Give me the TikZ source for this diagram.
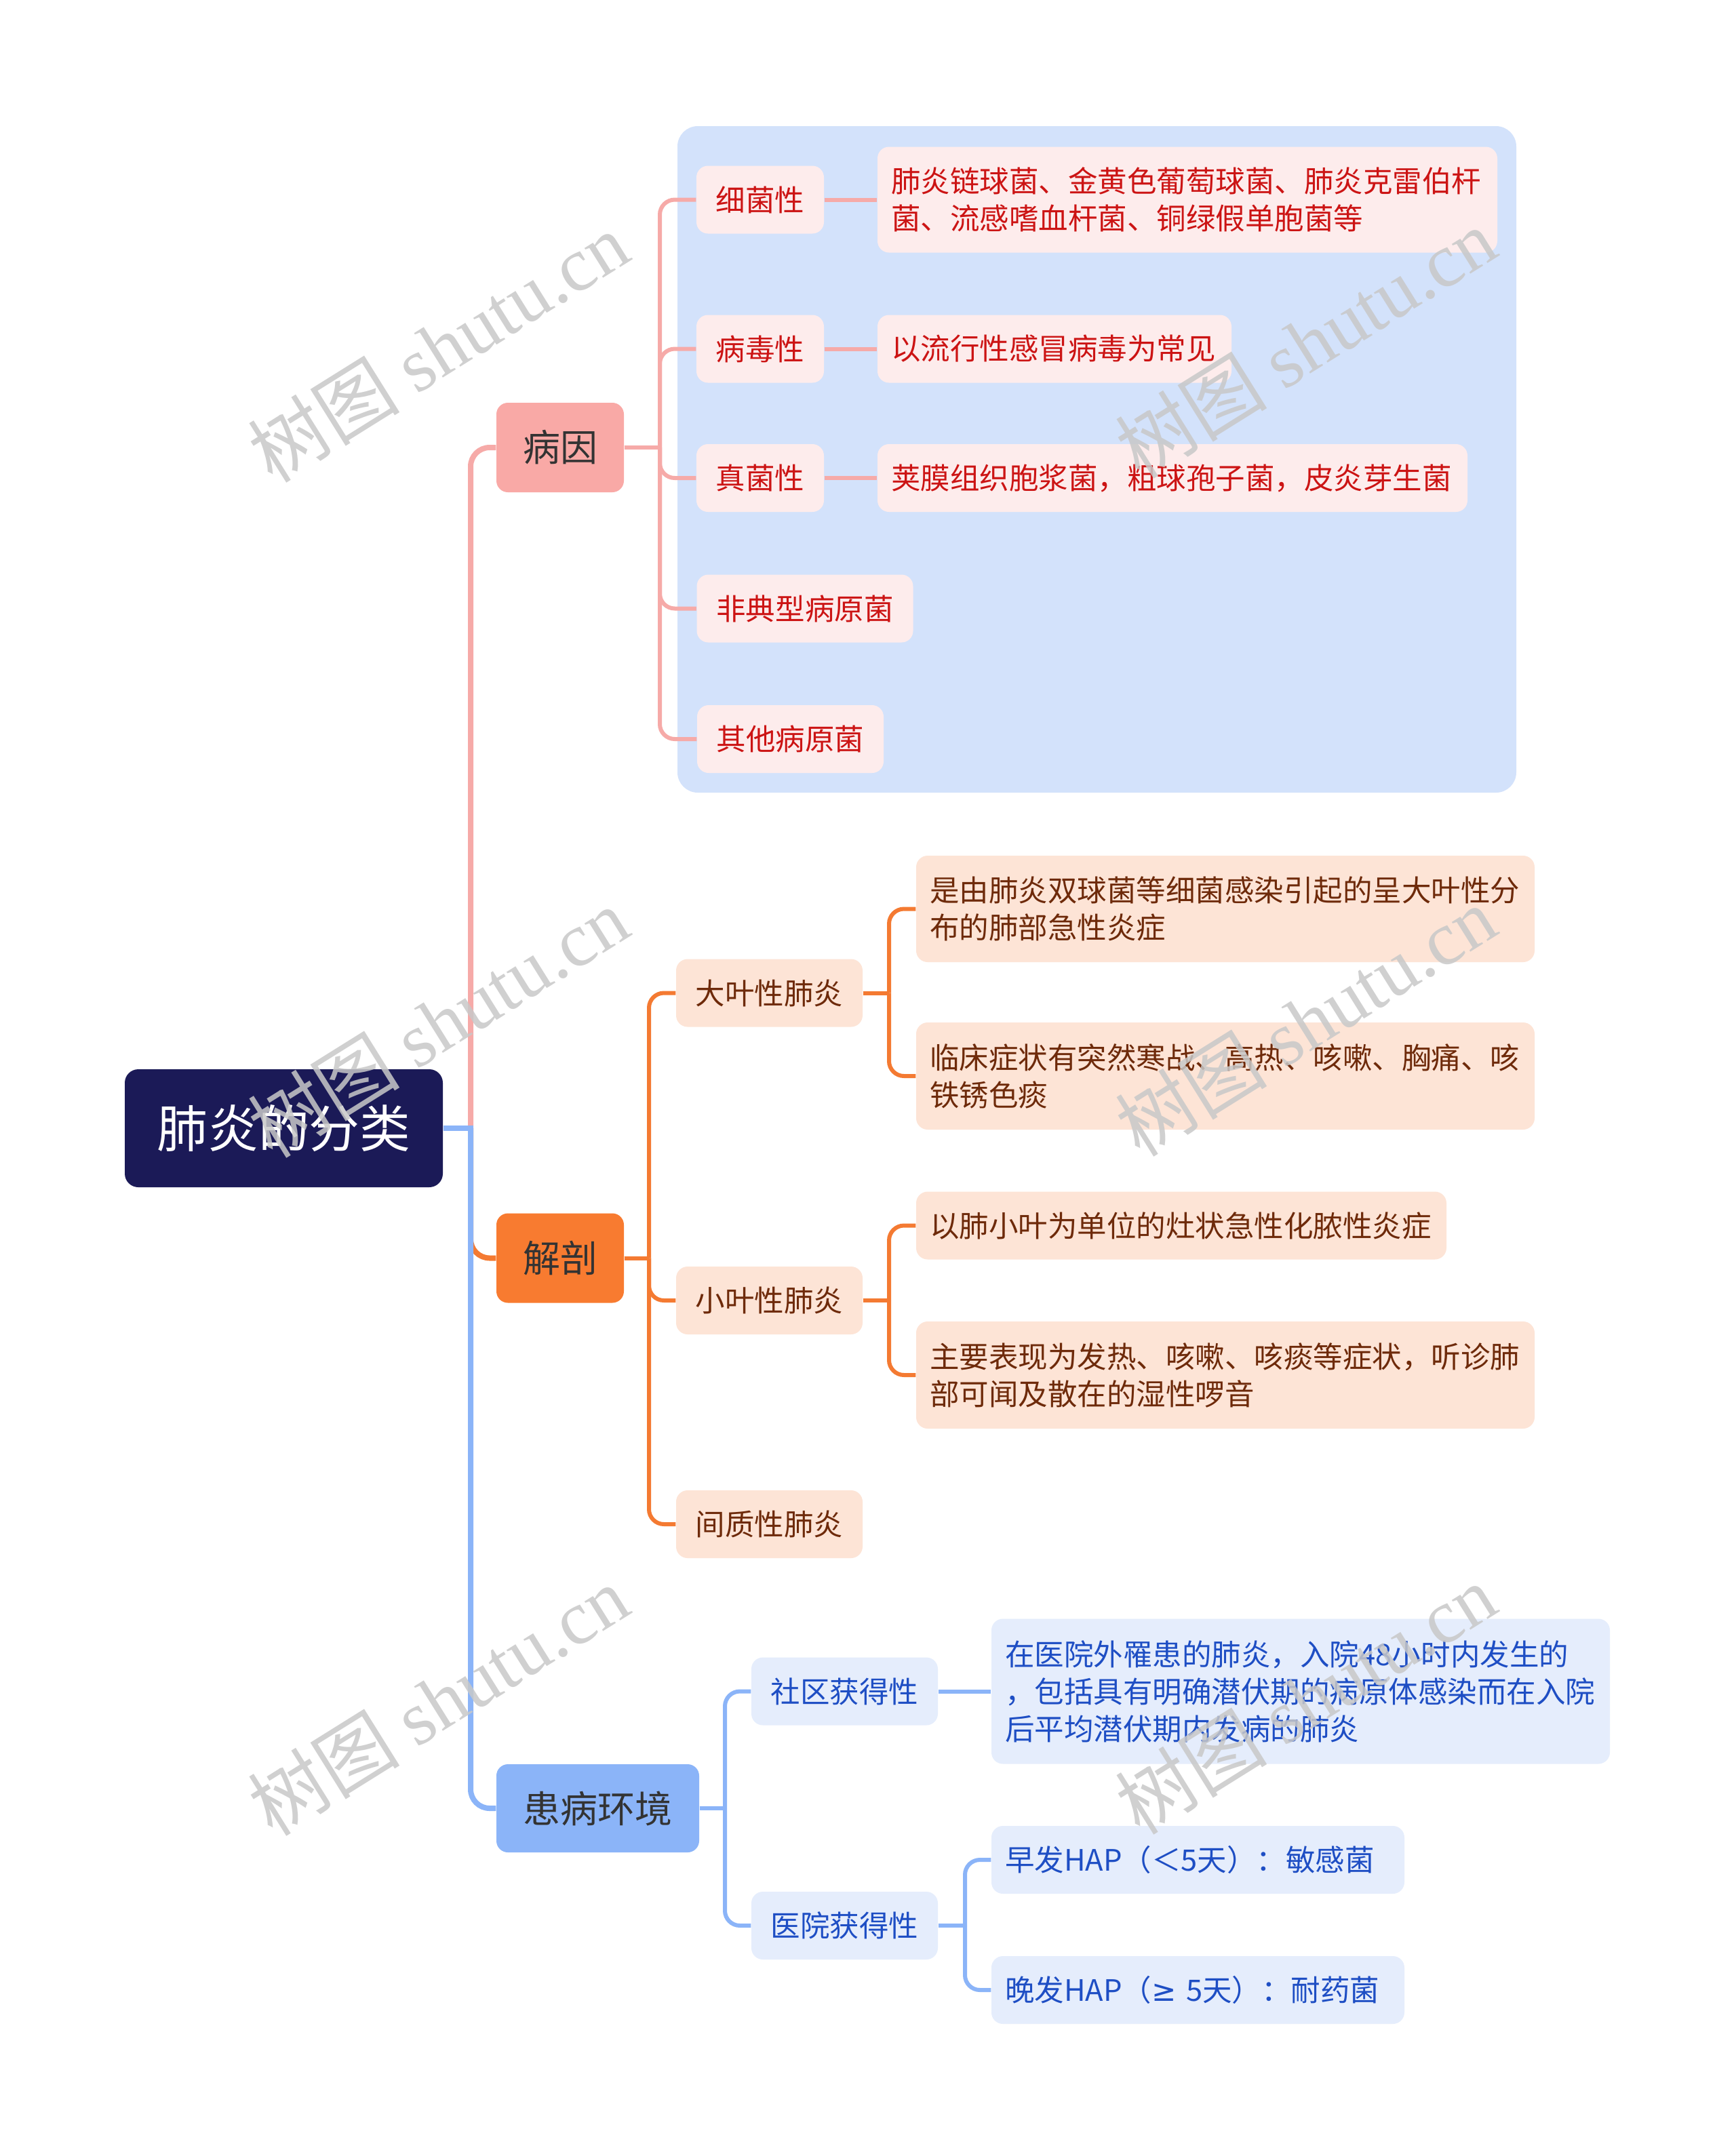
\documentclass[tikz,border=0pt]{standalone}
\usepackage{fontspec}
\setmainfont{Noto Sans CJK SC}
\newfontfamily\wmfont{Liberation Serif}
\newfontfamily\wmcjk{Noto Sans CJK SC}
\newfontfamily\symfnt{DejaVu Sans}
\definecolor{navy}{HTML}{1B1A57}
\definecolor{pinkM}{HTML}{F9A9A6}
\definecolor{orangeM}{HTML}{F87B30}
\definecolor{blueM}{HTML}{8BB4F8}
\definecolor{pinkLn}{HTML}{F6AAA8}
\definecolor{orangeLn}{HTML}{F47A32}
\definecolor{blueLn}{HTML}{8BB4F8}
\definecolor{pinkC}{HTML}{FDECEC}
\definecolor{redT}{HTML}{CC1414}
\definecolor{bgB}{HTML}{D3E2FB}
\definecolor{peachC}{HTML}{FDE4D6}
\definecolor{brownT}{HTML}{6E2A0A}
\definecolor{blueC}{HTML}{E5EDFC}
\definecolor{blueT}{HTML}{1E4EC4}
\definecolor{darkT}{HTML}{333333}
\definecolor{wmgray}{HTML}{C8C8C8}
\tikzset{
  rootS/.style={fill=navy, text=white, rounded corners=0.2cm, inner sep=0pt,
    font=\fontsize{21.3pt}{26pt}\selectfont},
  mainS/.style={text=darkT, rounded corners=0.17cm, inner sep=0pt,
    font=\fontsize{15.65pt}{19pt}\selectfont},
  leafS/.style={rounded corners=0.17cm, inner sep=0pt, minimum height=1.0cm,
    font=\fontsize{12.38pt}{15.65pt}\selectfont},
  redS/.style={leafS, fill=pinkC, text=redT},
  brownS/.style={leafS, fill=peachC, text=brownT},
  bluS/.style={leafS, fill=blueC, text=blueT},
  txtS/.style={align=left, inner xsep=0.2cm, inner ysep=0pt},
  mainLn/.style={line width=0.08cm, rounded corners=0.28cm},
  subLn/.style={line width=0.06cm, rounded corners=0.22cm},
  wm/.style={text=wmgray, opacity=0.85, rotate=32, inner sep=0pt,
    font=\fontsize{32pt}{36pt}\selectfont},
}
\begin{document}
\begin{tikzpicture}
\useasboundingbox[fill=white] (0,0) rectangle (25.6,-31.71);
% background panel
\fill[bgB, rounded corners=0.3cm] (9.99,-1.86) rectangle (22.36,-11.69);
% trunk x positions
\coordinate (T0) at (6.94,0);
\coordinate (T1) at (9.73,0);
\coordinate (T2) at (9.57,0);
\coordinate (T3) at (13.11,0);
\coordinate (T4) at (10.69,0);
\coordinate (T5) at (14.23,0);
% root and main nodes
\node[rootS, minimum width=4.69cm, minimum height=1.74cm] (root) at (4.185,-16.64) {肺炎的分类};
\node[mainS, fill=pinkM, minimum width=1.88cm, minimum height=1.32cm] (bingyin) at (8.26,-6.60) {病因};
\node[mainS, fill=orangeM, minimum width=1.88cm, minimum height=1.32cm] (jiepou) at (8.26,-18.555) {解剖};
\node[mainS, fill=blueM, minimum width=2.99cm, minimum height=1.30cm] (huanbing) at (8.815,-26.67) {患病环境};
% 病因 children
\node[redS, minimum width=1.88cm] (b1) at (11.21,-2.945) {细菌性};
\node[redS, minimum width=1.88cm] (b2) at (11.21,-5.145) {病毒性};
\node[redS, minimum width=1.88cm] (b3) at (11.21,-7.05) {真菌性};
\node[redS, minimum width=3.19cm] (b4) at (11.87,-8.975) {非典型病原菌};
\node[redS, minimum width=2.75cm] (b5) at (11.655,-10.90) {其他病原菌};
\node[redS, txtS, minimum width=9.14cm, minimum height=1.56cm, text width=8.74cm] (g1) at (17.51,-2.945) {肺炎链球菌、金黄色葡萄球菌、肺炎克雷伯杆\\菌、流感嗜血杆菌、铜绿假单胞菌等};
\node[redS, txtS, minimum width=5.22cm, text width=4.82cm] (g2) at (15.55,-5.145) {以流行性感冒病毒为常见};
\node[redS, txtS, minimum width=8.70cm, text width=8.30cm] (g3) at (17.29,-7.05) {荚膜组织胞浆菌，粗球孢子菌，皮炎芽生菌};
% 解剖 children
\node[brownS, minimum width=2.75cm] (j1) at (11.345,-14.645) {大叶性肺炎};
\node[brownS, minimum width=2.75cm] (j2) at (11.345,-19.18) {小叶性肺炎};
\node[brownS, minimum width=2.75cm] (j3) at (11.345,-22.48) {间质性肺炎};
\node[brownS, txtS, minimum width=9.12cm, minimum height=1.57cm, text width=8.72cm] (d1) at (18.07,-13.405) {是由肺炎双球菌等细菌感染引起的呈大叶性分\\布的肺部急性炎症};
\node[brownS, txtS, minimum width=9.12cm, minimum height=1.58cm, text width=8.72cm] (d2) at (18.07,-15.87) {临床症状有突然寒战、高热、咳嗽、胸痛、咳\\铁锈色痰};
\node[brownS, txtS, minimum width=7.82cm, text width=7.42cm] (x1) at (17.42,-18.075) {以肺小叶为单位的灶状急性化脓性炎症};
\node[brownS, txtS, minimum width=9.12cm, minimum height=1.58cm, text width=8.72cm] (x2) at (18.07,-20.28) {主要表现为发热、咳嗽、咳痰等症状，听诊肺\\部可闻及散在的湿性啰音};
% 患病环境 children
\node[bluS, minimum width=2.75cm] (h1) at (12.455,-24.945) {社区获得性};
\node[bluS, minimum width=2.75cm] (h2) at (12.455,-28.40) {医院获得性};
\node[bluS, txtS, minimum width=9.12cm, minimum height=2.14cm, text width=8.72cm] (s1) at (19.18,-24.945) {在医院外罹患的肺炎，入院48小时内发生的\\，包括具有明确潜伏期的病原体感染而在入院\\后平均潜伏期内发病的肺炎};
\node[bluS, txtS, minimum width=6.09cm, text width=5.69cm] (e1) at (17.665,-27.43) {早发HAP（＜5天）：敏感菌};
\node[bluS, txtS, minimum width=6.09cm, text width=5.69cm] (e2) at (17.665,-29.35) {晚发HAP（{\symfnt ≥} 5天）：耐药菌};
% main connectors
\draw[mainLn, pinkLn] (root.east -| T0) |- (bingyin.west);
\draw[mainLn, orangeLn] (root.east -| T0) |- (jiepou.west);
\draw[mainLn, blueLn] (root.east -| T0) |- (huanbing.west);
\draw[line width=0.08cm, blueLn] (root.east) -- ([xshift=0.04cm]root.east -| T0);
% 病因 connectors
\draw[subLn, pinkLn] (bingyin.east) -- (bingyin.east -| T1);
\foreach \c in {b1,b2,b3,b4,b5}{
  \draw[subLn, pinkLn] (bingyin.east -| T1) |- (\c.west);
}
\draw[subLn, pinkLn] (b1.east) -- (g1.west |- b1.east);
\draw[subLn, pinkLn] (b2.east) -- (g2.west |- b2.east);
\draw[subLn, pinkLn] (b3.east) -- (g3.west |- b3.east);
% 解剖 connectors
\draw[subLn, orangeLn] (jiepou.east) -- (jiepou.east -| T2);
\foreach \c in {j1,j2,j3}{
  \draw[subLn, orangeLn] (jiepou.east -| T2) |- (\c.west);
}
\draw[subLn, orangeLn] (j1.east) -- (j1.east -| T3);
\foreach \c in {d1,d2}{
  \draw[subLn, orangeLn] (j1.east -| T3) |- (\c.west);
}
\draw[subLn, orangeLn] (j2.east) -- (j2.east -| T3);
\foreach \c in {x1,x2}{
  \draw[subLn, orangeLn] (j2.east -| T3) |- (\c.west);
}
% 患病环境 connectors
\draw[subLn, blueLn] (huanbing.east) -- (huanbing.east -| T4);
\foreach \c in {h1,h2}{
  \draw[subLn, blueLn] (huanbing.east -| T4) |- (\c.west);
}
\draw[subLn, blueLn] (h1.east) -- (s1.west |- h1.east);
\draw[subLn, blueLn] (h2.east) -- (h2.east -| T5);
\foreach \c in {e1,e2}{
  \draw[subLn, blueLn] (h2.east -| T5) |- (\c.west);
}
% watermarks
\node[wm] (w1) at (6.46,-5.12) {{\wmcjk 树图} {\wmfont shutu.cn}};
\node[wm] (w2) at (19.25,-5.06) {{\wmcjk 树图} {\wmfont shutu.cn}};
\node[wm] (w3) at (6.46,-15.08) {{\wmcjk 树图} {\wmfont shutu.cn}};
\node[wm] (w4) at (19.25,-15.06) {{\wmcjk 树图} {\wmfont shutu.cn}};
\node[wm] (w5) at (6.46,-25.08) {{\wmcjk 树图} {\wmfont shutu.cn}};
\node[wm] (w6) at (19.25,-25.06) {{\wmcjk 树图} {\wmfont shutu.cn}};
\end{tikzpicture}
\end{document}
